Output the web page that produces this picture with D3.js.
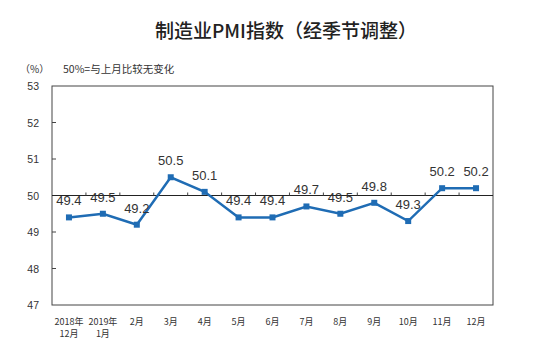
<!DOCTYPE html>
<html lang="zh">
<head>
  <meta charset="UTF-8">
  <title>制造业PMI指数</title>
  <script src="https://d3js.org/d3.v7.min.js"></script>
  <style>
    body { margin: 0; background: #fff; }
    text { font-family: "Liberation Sans", Arial, "Noto Sans CJK SC", sans-serif; fill: #333; }
  </style>
</head>
<body>
  <svg width="537" height="352"></svg>
  <script>
    // data
    const months = ["2018年\n12月", "2019年\n1月", "2月", "3月", "4月", "5月", "6月", "7月", "8月", "9月", "10月", "11月", "12月"];
    const pmi = [49.4, 49.5, 49.2, 50.5, 50.1, 49.4, 49.4, 49.7, 49.5, 49.8, 49.3, 50.2, 50.2];
    const yTicks = [47, 48, 49, 50, 51, 52, 53];

    const svg = d3.select("svg");
    const plotL = 52, plotR = 493, plotT = 86, plotB = 305;

    const x = d3.scaleBand().domain(months).range([plotL, plotR]);
    const y = d3.scaleLinear().domain([47, 53]).range([plotB, plotT]);

    // title
    svg.append("text")
      .attr("x", 286).attr("y", 38)
      .attr("text-anchor", "middle")
      .style("font-family", "'Noto Sans CJK SC', sans-serif")
      .style("font-size", "19px")
      .style("font-weight", "500")
      .style("fill", "#222")
      .text("制造业PMI指数（经季节调整）");

    svg.append("text").attr("x", 20).attr("y", 73)
      .style("font-size", "10px")
      .style("font-family", "'Noto Sans CJK SC', sans-serif")
      .text("（%）");
    svg.append("text").attr("x", 63).attr("y", 73)
      .style("font-size", "10.5px")
      .style("font-family", "'Noto Sans CJK SC', sans-serif")
      .text("50%=与上月比较无变化");

    // frame
    svg.append("rect")
      .attr("x", plotL).attr("y", plotT)
      .attr("width", plotR - plotL).attr("height", plotB - plotT)
      .attr("fill", "none").attr("stroke", "#444").attr("stroke-width", 1);

    // y ticks and labels
    svg.append("g").selectAll("line").data(yTicks.slice(1, -1)).join("line")
      .attr("x1", plotL).attr("x2", plotL + 4)
      .attr("y1", d => y(d)).attr("y2", d => y(d))
      .attr("stroke", "#444");
    svg.append("g").selectAll("text").data(yTicks).join("text")
      .attr("x", 39).attr("y", d => y(d) + 4)
      .attr("text-anchor", "end")
      .style("font-size", "10.5px")
      .text(d => d);

    // 50 reference line with category ticks
    svg.append("line")
      .attr("x1", plotL).attr("x2", plotR)
      .attr("y1", y(50)).attr("y2", y(50))
      .attr("stroke", "#222").attr("stroke-width", 1.2);
    svg.append("g").selectAll("line").data(months.slice(1)).join("line")
      .attr("x1", d => x(d)).attr("x2", d => x(d))
      .attr("y1", y(50)).attr("y2", y(50) - 3)
      .attr("stroke", "#444");

    // x labels
    const xl = svg.append("g").selectAll("text").data(months).join("text")
      .attr("text-anchor", "middle")
      .style("font-size", "9px")
      .style("font-family", "'Noto Sans CJK SC', sans-serif");
    xl.each(function(d) {
      const lines = d.split("\n");
      const t = d3.select(this);
      lines.forEach((s, i) => {
        t.append("tspan")
          .attr("x", x(d) + x.bandwidth() / 2)
          .attr("y", 325 + i * 12)
          .text(s);
      });
    });

    // line
    const cx = (d, i) => x(months[i]) + x.bandwidth() / 2;
    svg.append("path")
      .datum(pmi)
      .attr("fill", "none")
      .attr("stroke", "#1f6cb4")
      .attr("stroke-width", 2.5)
      .attr("d", d3.line().x(cx).y(d => y(d)));

    svg.append("g").selectAll("rect").data(pmi).join("rect")
      .attr("x", (d, i) => cx(d, i) - 3)
      .attr("y", d => y(d) - 3)
      .attr("width", 6).attr("height", 6)
      .attr("fill", "#1f6cb4");

    // value labels
    svg.append("g").selectAll("text").data(pmi).join("text")
      .attr("x", cx)
      .attr("y", d => y(d) - 12)
      .attr("text-anchor", "middle")
      .style("font-size", "13px")
      .style("fill", "#333")
      .text(d => d.toFixed(1));
  </script>
</body>
</html>
